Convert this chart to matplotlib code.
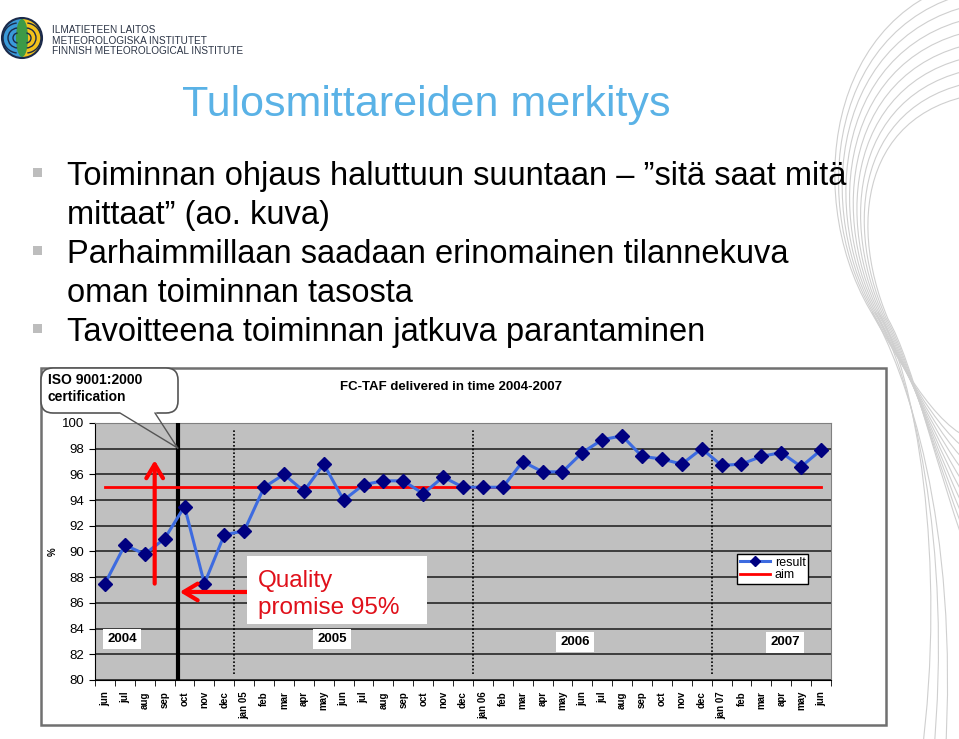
import numpy as np
import matplotlib
matplotlib.use('Agg')
import matplotlib.pyplot as plt
from matplotlib.patches import Rectangle, FancyBboxPatch, Wedge, Ellipse, Arc, Circle, PathPatch
from matplotlib.path import Path

plt.rcParams['font.family'] = ['Liberation Sans', 'DejaVu Sans']

# --- data -------------------------------------------------------------
months = ['jun', 'jul', 'aug', 'sep', 'oct', 'nov', 'dec',
          'jan 05', 'feb', 'mar', 'apr', 'may', 'jun', 'jul', 'aug', 'sep', 'oct', 'nov', 'dec',
          'jan 06', 'feb', 'mar', 'apr', 'may', 'jun', 'jul', 'aug', 'sep', 'oct', 'nov', 'dec',
          'jan 07', 'feb', 'mar', 'apr', 'may', 'jun']
result = [87.5, 90.5, 89.8, 91.0, 93.5, 87.5, 91.3,
          91.6, 95.0, 96.0, 94.7, 96.8, 94.0, 95.2, 95.5, 95.5, 94.5, 95.8, 95.0,
          95.0, 95.0, 97.0, 96.2, 96.2, 97.7, 98.7, 99.0, 97.4, 97.2, 96.8, 98.0,
          96.7, 96.8, 97.4, 97.7, 96.6, 97.9]
aim_value = 95.0
aim = [aim_value] * len(months)

years = ['2004', '2005', '2006', '2007']
year_x = [0.85, 11.43, 23.62, 34.19]
year_y = [83.2, 83.2, 82.96, 82.92]

iso_x = 3.65   # ISO 9001:2000 certification
title = 'Tulosmittareiden merkitys'
bullets = [
    ['Toiminnan ohjaus haluttuun suuntaan \u2013 \u201dsitä saat mitä',
     'mittaat\u201d (ao. kuva)'],
    ['Parhaimmillaan saadaan erinomainen tilannekuva',
     'oman toiminnan tasosta'],
    ['Tavoitteena toiminnan jatkuva parantaminen'],
]

W, H = 959, 739
fig = plt.figure(figsize=(W / 100, H / 100), dpi=100)

# background layer in pixel coordinates
bg = fig.add_axes([0, 0, 1, 1], zorder=0)
bg.set_xlim(0, W)
bg.set_ylim(H, 0)
bg.axis('off')

# decorative swooshes on the right
for i in range(10):
    verts = [(1000, -25 + 13 * i), (830 + 4 * i, -10 + 12 * i), (800 + 5 * i, 190 + 3 * i),
             (870 + 2 * i, 310 + i),
             (895 + 2 * i, 353 + i), (935, 430 + 4 * i), (975, 440 + 15 * i)]
    codes = [Path.MOVETO] + [Path.CURVE4] * 6
    bg.add_patch(PathPatch(Path(verts, codes), fc='none', ec='#cfcfcf', lw=0.8, zorder=1))
for j in range(3):
    verts = [(872 + 3 * j, 312), (905 + 5 * j, 370), (960 - 6 * j, 520 + 20 * j),
             (945 - 12 * j, 760)]
    codes = [Path.MOVETO] + [Path.CURVE4] * 3
    bg.add_patch(PathPatch(Path(verts, codes), fc='none', ec='#cfcfcf', lw=0.8, zorder=1))

# logo
cx, cy, r = 22, 38, 20
bg.add_patch(Wedge((cx, cy), r, 90, 270, fc='#3a9ad9', ec='none', zorder=2))
bg.add_patch(Wedge((cx, cy), r, -90, 90, fc='#f2c21b', ec='none', zorder=2))
bg.add_patch(Ellipse((cx, cy), 12, 38, fc='#3c9a47', ec='none', zorder=3))
clip = Circle((cx, cy), r, transform=bg.transData)
for rr in (5, 10, 15, 20):
    a1 = Arc((cx - 4, cy), 2 * rr, 2 * rr, theta1=95, theta2=265, color='#1b2a4a', lw=1, zorder=4)
    a2 = Arc((cx + 4, cy), 2 * rr, 2 * rr, theta1=-85, theta2=85, color='#1b2a4a', lw=1, zorder=4)
    for a in (a1, a2):
        bg.add_patch(a)
        a.set_clip_path(clip)
bg.add_patch(Circle((cx, cy), r, fc='none', ec='#1b2a4a', lw=1.5, zorder=5))
for k, txt in enumerate(['ILMATIETEEN LAITOS', 'METEOROLOGISKA INSTITUTET',
                         'FINNISH METEOROLOGICAL INSTITUTE']):
    bg.text(52, 33 + 10.5 * k, txt, fontsize=7.2, color='#2b3445', va='baseline')

# slide title and bullets
bg.text(426.5, 116, title, fontsize=31, color='#5ab2e6', ha='center', va='baseline')
baseline = 185
for lines in bullets:
    bg.add_patch(Rectangle((32.5, baseline - 17), 9, 9, fc='#bdbdbd', ec='none', zorder=2))
    for line in lines:
        bg.text(67, baseline, line, fontsize=23.5, color='black', va='baseline')
        baseline += 39

# chart frame
bg.add_patch(Rectangle((40.5, 368), 845, 357, fc='white', ec='#707070', lw=1.8, zorder=2))
bg.text(340, 387, 'FC-TAF delivered in time 2004-2007', fontsize=9.5, fontweight='bold',
        va='center', zorder=3)
bg.text(53, 552, '%', fontsize=7, fontweight='bold', rotation=90, ha='center', va='center',
        zorder=3)

# --- chart ------------------------------------------------------------
ax = fig.add_axes([95 / W, (H - 680) / H, 736 / W, 257 / H], zorder=2)
x = np.arange(len(months))
ax.set_facecolor('#c0c0c0')
ax.set_xlim(-0.5, len(months) - 0.5)
ax.set_ylim(80, 100)
ax.set_yticks(range(80, 101, 2))
ax.yaxis.grid(True, color='#333333', lw=1.3)
ax.set_axisbelow(True)
for s in ('top', 'right'):
    ax.spines[s].set_color('#808080')
for s in ('left', 'bottom'):
    ax.spines[s].set_color('black')
ax.tick_params(axis='y', direction='out', length=4, labelsize=9.5, pad=4)
ax.set_xticks(x)
ax.set_xticklabels(months, rotation=90, fontsize=7, fontweight='bold')
ax.set_xticks(np.arange(-0.5, len(months), 1), minor=True)
ax.tick_params(axis='x', which='major', length=0, pad=8)
ax.tick_params(axis='x', which='minor', direction='out', length=4)

ax.axvline(iso_x, color='black', lw=3, zorder=3)
jan_x = [i - 0.5 for i, m in enumerate(months) if m.startswith('jan')]
ax.vlines(jan_x, 80.5, 99.45, colors='black', linestyles=(0, (1, 1.2)), lw=1.2, zorder=3)

ax.plot(x, aim, color='red', lw=2, label='aim', zorder=4)
ax.plot(x, result, color='#3d6be0', lw=2.2, marker='D', ms=7, mfc='#000080', mec='#000080',
        label='result', zorder=5)

# annotations
ax.annotate('', xy=(2.5, 97.1), xytext=(2.5, 87.5),
            arrowprops=dict(arrowstyle='->,head_length=0.5,head_width=0.3', color='red',
                            lw=3, mutation_scale=20, shrinkA=0, shrinkB=0), zorder=6)
ax.annotate('', xy=(3.76, 86.85), xytext=(7.14, 86.85),
            arrowprops=dict(arrowstyle='->,head_length=0.5,head_width=0.3', color='red',
                            lw=3, mutation_scale=20, shrinkA=0, shrinkB=0), zorder=6)
ax.add_patch(Rectangle((7.14, 84.36), 9.04, 5.29, fc='white', ec='none', zorder=6))
ax.text(7.68, 87.25, 'Quality', fontsize=17.5, color='#e0101a', va='baseline', zorder=7)
ax.text(7.68, 85.1, 'promise 95%', fontsize=17.5, color='#e0101a', va='baseline', zorder=7)

for yx, yy, yl in zip(year_x, year_y, years):
    ax.text(yx, yy, yl, fontsize=9.5, fontweight='bold', ha='center', va='center', zorder=6,
            bbox=dict(fc='white', ec='none', pad=3))

h, l = ax.get_legend_handles_labels()
leg = ax.legend(h[::-1], l[::-1], loc='upper right', bbox_to_anchor=(0.969, 0.49),
                fontsize=9, fancybox=False, edgecolor='black', framealpha=1,
                borderpad=0.2, labelspacing=0.05, handlelength=2.4, handletextpad=0.4,
                borderaxespad=0, markerscale=0.8)
leg.get_frame().set_linewidth(1)
leg.set_zorder(8)

# --- callout bubble on top -------------------------------------------
ov = fig.add_axes([0, 0, 1, 1], zorder=5)
ov.set_xlim(0, W)
ov.set_ylim(H, 0)
ov.axis('off')
ov.patch.set_alpha(0)
ov.add_patch(FancyBboxPatch((41, 368), 137, 45, boxstyle='round,pad=0,rounding_size=12',
                            fc='white', ec='#555555', lw=1.2))
ov.plot([121, 154], [413, 413], color='white', lw=2.5)
ov.plot([120, iso_x * 19.9 + 105], [413, 448], color='#555555', lw=1)
ov.plot([155, iso_x * 19.9 + 105], [413, 448], color='#555555', lw=1)
ov.text(48, 380, 'ISO 9001:2000', fontsize=10, fontweight='bold', va='center')
ov.text(48, 397, 'certification', fontsize=10, fontweight='bold', va='center')

fig.savefig('out.png', dpi=100)
